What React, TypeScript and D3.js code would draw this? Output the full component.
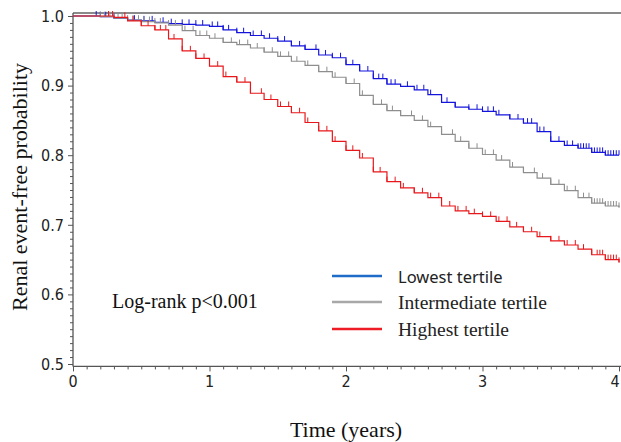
import React, { useRef, useEffect } from 'react'
import * as d3 from 'd3'

// time grid (years)
const times = [
  0, 0.1, 0.2, 0.3, 0.4, 0.5, 0.6, 0.7, 0.8, 0.9, 1.0, 1.1, 1.2, 1.3, 1.4, 1.5, 1.6, 1.7, 1.8, 1.9, 2.0,
  2.1, 2.2, 2.3, 2.4, 2.5, 2.6, 2.7, 2.8, 2.9, 3.0, 3.1, 3.2, 3.3, 3.4, 3.5, 3.6, 3.7, 3.8, 3.9, 4.0,
]

const lowest = [
  1.0, 1.0, 0.999, 0.997, 0.994, 0.993, 0.991, 0.989, 0.988, 0.987, 0.985, 0.98, 0.976, 0.972, 0.968, 0.964,
  0.957, 0.952, 0.944, 0.94, 0.93, 0.921, 0.91, 0.902, 0.899, 0.894, 0.887, 0.876, 0.869, 0.866, 0.863, 0.858,
  0.852, 0.846, 0.834, 0.82, 0.814, 0.81, 0.804, 0.8, 0.8,
]
const intermediate = [
  1.0, 1.0, 0.999, 0.997, 0.994, 0.992, 0.99, 0.987, 0.979, 0.972, 0.968, 0.962, 0.959, 0.954, 0.948, 0.942,
  0.935, 0.929, 0.92, 0.912, 0.903, 0.886, 0.873, 0.864, 0.857, 0.85, 0.841, 0.83, 0.82, 0.81, 0.801, 0.793,
  0.783, 0.775, 0.767, 0.758, 0.749, 0.739, 0.731, 0.727, 0.725,
]
const highest = [
  1.0, 1.0, 1.0, 0.998, 0.993, 0.986, 0.98, 0.967, 0.95, 0.939, 0.928, 0.913, 0.905, 0.889, 0.88, 0.87, 0.861,
  0.847, 0.835, 0.82, 0.807, 0.796, 0.776, 0.762, 0.753, 0.746, 0.739, 0.727, 0.72, 0.716, 0.712, 0.705, 0.697,
  0.69, 0.683, 0.677, 0.671, 0.665, 0.657, 0.65, 0.646,
]

// censoring marks
const lowestCensor = [
  0.17, 0.2, 0.24, 0.3, 0.45, 0.52, 0.58, 0.66, 0.72, 0.8, 0.85, 0.9, 0.95, 1.02, 1.06, 1.1, 1.14, 1.2, 1.25,
  1.32, 1.38, 1.44, 1.5, 1.55, 1.6, 1.66, 1.7, 1.78, 1.85, 1.9, 1.96, 2.0, 2.05, 2.1, 2.16, 2.2, 2.24, 2.27,
  2.3, 2.33, 2.36, 2.45, 2.52, 2.57, 2.62, 2.7, 2.74, 2.8, 2.9, 2.96, 3.0, 3.04, 3.08, 3.12, 3.2, 3.26, 3.3,
  3.33, 3.36, 3.42, 3.45, 3.5, 3.56, 3.62, 3.66, 3.7, 3.72, 3.74, 3.76, 3.78, 3.8, 3.82, 3.84, 3.86, 3.88,
  3.9, 3.92, 3.94, 3.96, 3.98, 4.0,
]
const intermediateCensor = [
  0.2, 0.23, 0.27, 0.3, 0.33, 0.36, 0.4, 0.44, 0.48, 0.52, 0.56, 0.6, 0.64, 0.7, 0.75, 0.82, 0.88, 0.93, 0.98,
  1.04, 1.1, 1.16, 1.22, 1.28, 1.35, 1.4, 1.46, 1.52, 1.58, 1.64, 1.72, 1.8, 1.86, 1.92, 2.0, 2.06, 2.12, 2.2,
  2.26, 2.3, 2.34, 2.4, 2.48, 2.56, 2.62, 2.7, 2.78, 2.84, 2.9, 2.96, 3.02, 3.08, 3.14, 3.22, 3.3, 3.38, 3.44,
  3.5, 3.56, 3.62, 3.68, 3.74, 3.78, 3.8, 3.82, 3.84, 3.86, 3.88, 3.9, 3.92, 3.94, 3.96, 3.98, 4.0,
]
const highestCensor = [
  0.26, 0.29, 0.38, 0.44, 0.5, 0.55, 0.6, 0.64, 0.68, 0.74, 0.8, 0.86, 0.9, 0.96, 1.0, 1.06, 1.12, 1.2, 1.26,
  1.3, 1.38, 1.45, 1.52, 1.58, 1.66, 1.72, 1.8, 1.86, 1.92, 2.0, 2.05, 2.12, 2.2, 2.25, 2.3, 2.36, 2.42, 2.5,
  2.56, 2.62, 2.68, 2.76, 2.82, 2.88, 2.94, 3.0, 3.06, 3.12, 3.18, 3.25, 3.3, 3.36, 3.42, 3.5, 3.56, 3.62, 3.68,
  3.74, 3.8, 3.84, 3.86, 3.88, 3.9, 3.92, 3.94, 3.96, 3.98, 4.0,
]

const seriesNames = ['Lowest tertile', 'Intermediate tertile', 'Highest tertile']
const xTicks = [0, 1, 2, 3, 4]
const yTicks = [0.5, 0.6, 0.7, 0.8, 0.9, 1.0]

export default function App() {
  const ref = useRef<SVGSVGElement>(null)

  useEffect(() => {
    const svg = d3.select(ref.current)
    svg.selectAll('*').remove()

    const x = d3.scaleLinear().domain([0, 4]).range([73, 619])
    const y = d3.scaleLinear().domain([0.5, 1.0]).range([364, 16])

    const series = [
      { name: seriesNames[0], values: lowest, censor: lowestCensor, color: '#1414dc', legend: '#1f6cc8' },
      { name: seriesNames[1], values: intermediate, censor: intermediateCensor, color: '#8e8e8e', legend: '#a8a8a8' },
      { name: seriesNames[2], values: highest, censor: highestCensor, color: '#e8171b', legend: '#ee1c24' },
    ]

    // top border
    svg.append('line')
      .attr('x1', 73).attr('x2', 621).attr('y1', y(1.0043)).attr('y2', y(1.0043))
      .attr('stroke', '#8a8a8a').attr('stroke-width', 2)

    const tickFont = '"DejaVu Sans Condensed", "Liberation Sans Narrow", "Liberation Sans", sans-serif'

    // y axis
    const yAxis = d3.axisLeft(y)
      .tickValues(d3.range(50, 101).map(d => d / 100))
      .tickSize(0)
      .tickFormat(() => '')
    const gy = svg.append('g').attr('transform', 'translate(73,0)').call(yAxis)
    gy.select('.domain').remove()
    gy.selectAll('.tick line').remove()
    gy.selectAll('.tick').append('line')
      .attr('x1', (d: any) => (Math.round(d * 100) % 10 === 0 ? -5 : -3))
      .attr('x2', 0)
      .attr('stroke', '#555')
    gy.append('line').attr('x1', 0).attr('x2', 0).attr('y1', y(1.0043)).attr('y2', y(0.4965)).attr('stroke', '#555').attr('stroke-width', 1.3)
    svg.append('g').selectAll('text').data(yTicks).join('text')
      .attr('x', 64).attr('y', d => y(d)).attr('dy', '0.36em')
      .attr('text-anchor', 'end')
      .attr('font-family', tickFont).attr('font-size', 16).attr('fill', '#222')
      .text(d => d.toFixed(1))

    // x axis
    const xAxis = d3.axisBottom(x)
      .tickValues(d3.range(0, 41).map(d => d / 10))
      .tickSize(0)
      .tickFormat(() => '')
    const gx = svg.append('g').attr('transform', `translate(0,${y(0.4965)})`).call(xAxis)
    gx.select('.domain').remove()
    gx.selectAll('.tick line').remove()
    gx.selectAll('.tick').append('line')
      .attr('y1', 0)
      .attr('y2', (d: any) => (Math.round(d * 10) % 10 === 0 ? 5 : 3))
      .attr('stroke', '#555')
    gx.append('line').attr('x1', 73).attr('x2', 621).attr('y1', 0).attr('y2', 0).attr('stroke', '#555').attr('stroke-width', 1.3)
    svg.append('g').selectAll('text').data(xTicks).join('text')
      .attr('x', d => Math.min(x(d), 615)).attr('y', 387)
      .attr('text-anchor', 'middle')
      .attr('font-family', tickFont).attr('font-size', 16).attr('fill', '#222')
      .text(d => String(d))

    // curves
    const line = d3.line<number>()
      .x((_, i) => x(times[i]))
      .y(d => y(d))
      .curve(d3.curveStepAfter)
    const bis = d3.bisector((d: number) => d).right

    series.forEach(s => {
      const g = svg.append('g')
      g.append('path')
        .attr('d', line(s.values))
        .attr('fill', 'none').attr('stroke', s.color).attr('stroke-width', 1.2)
      g.selectAll('line.c').data(s.censor).join('line')
        .attr('class', 'c')
        .attr('x1', d => x(d)).attr('x2', d => x(d))
        .attr('y1', d => y(s.values[Math.max(0, bis(times, d) - 1)]))
        .attr('y2', d => y(s.values[Math.max(0, bis(times, d) - 1)]) - 5)
        .attr('stroke', s.color).attr('stroke-width', 1)
    })

    // legend
    const legY = [276, 302, 329]
    series.forEach((s, i) => {
      svg.append('line')
        .attr('x1', 332).attr('x2', 382).attr('y1', legY[i]).attr('y2', legY[i])
        .attr('stroke', s.legend).attr('stroke-width', 2.6)
      svg.append('text')
        .attr('x', 398).attr('y', legY[i] + 7)
        .attr('font-family', i === 0 ? '"Noto Sans", "Open Sans", sans-serif' : '"Liberation Serif", "Times New Roman", serif')
        .attr('font-size', i === 0 ? 16.5 : 19.5)
        .attr('fill', '#222')
        .text(s.name)
    })

    svg.append('text')
      .attr('x', 112).attr('y', 308)
      .attr('font-family', '"Liberation Serif", "Times New Roman", serif')
      .attr('font-size', 20).attr('fill', '#111')
      .text('Log-rank p<0.001')

    // axis titles
    svg.append('text')
      .attr('transform', 'translate(27,187) rotate(-90)')
      .attr('text-anchor', 'middle')
      .attr('font-family', '"Liberation Serif", "Times New Roman", serif')
      .attr('font-size', 22).attr('fill', '#111')
      .text('Renal event-free probability')

    svg.append('text')
      .attr('x', x(2)).attr('y', 437)
      .attr('text-anchor', 'middle')
      .attr('font-family', '"Liberation Serif", "Times New Roman", serif')
      .attr('font-size', 22).attr('fill', '#111')
      .text('Time (years)')
  }, [])

  return (
    <svg
      ref={ref}
      width={621}
      height={442}
      style={{ position: 'absolute', left: 0, top: 0, background: '#fff' }}
    />
  )
}
